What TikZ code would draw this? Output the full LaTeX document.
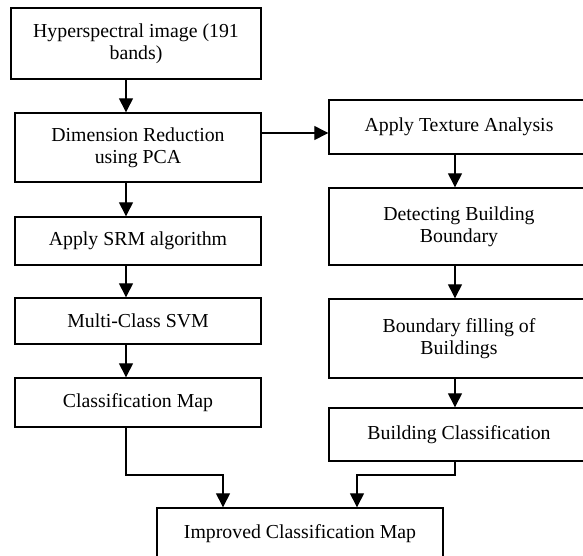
\documentclass[tikz,border=0pt]{standalone}
\usepackage{fontspec}
\setmainfont{Liberation Serif}
\usetikzlibrary{arrows.meta,positioning}

\begin{document}
\begin{tikzpicture}[x=1pt,y=-1pt,node distance=100pt,on grid,
    stage/.style={draw,line width=1.4pt,align=center,inner sep=0pt,
      font=\fontsize{19.8}{22}\selectfont},
    lstage/.style={stage,minimum width=246pt},
    rstage/.style={stage,minimum width=260pt},
    flow/.style={-{Triangle[width=14pt,length=14pt]},line width=1.3pt}]
  \clip (0,0) rectangle (583,555);
  % left branch
  \node [stage,minimum width=250pt,minimum height=71pt] (hsi) at (136,43.5) {Hyperspectral image (191\\bands)};
  \node [lstage,minimum height=69pt] (pca) at (138,147.5) {Dimension Reduction\\using PCA};
  \node [lstage,minimum height=48pt] (srm) [below=93.5pt of pca] {Apply SRM algorithm};
  \node [lstage,minimum height=46pt] (svm) [below=80pt of srm] {Multi-Class SVM};
  \node [lstage,minimum height=49pt] (map) [below=81.5pt of svm] {Classification Map};
  % right branch
  \node [rstage,minimum height=54pt] (tex) at (459,127) {Apply Texture Analysis};
  \node [rstage,minimum height=77pt] (edge) [below=99.5pt of tex] {Detecting Building\\Boundary};
  \node [rstage,minimum height=79pt] (fill) [below=112pt of edge] {Boundary filling of\\Buildings};
  \node [rstage,minimum height=53pt] (bld) [below=96pt of fill] {Building Classification};
  % merge
  \node [stage,minimum width=286pt,minimum height=52pt] (imp) at (300,534) {Improved Classification Map};

  \coordinate (lcol) at (126,0);
  \coordinate (rcol) at (455,0);
  \coordinate (link) at (0,133);
  \coordinate (ljoin) at (223,475);
  \coordinate (rjoin) at (357,475);
  \draw[flow] (hsi.south -| lcol) -- (pca.north -| lcol);
  \draw[flow] (pca.south -| lcol) -- (srm.north -| lcol);
  \draw[flow] (srm.south -| lcol) -- (svm.north -| lcol);
  \draw[flow] (svm.south -| lcol) -- (map.north -| lcol);
  \draw[flow] (pca.east |- link) -- (tex.west |- link);
  \draw[flow] (tex.south -| rcol) -- (edge.north -| rcol);
  \draw[flow] (edge.south -| rcol) -- (fill.north -| rcol);
  \draw[flow] (fill.south -| rcol) -- (bld.north -| rcol);
  \draw[flow] (map.south -| lcol) |- (ljoin) -- (ljoin |- imp.north);
  \draw[flow] (bld.south -| rcol) |- (rjoin) -- (rjoin |- imp.north);
\end{tikzpicture}
\end{document}
